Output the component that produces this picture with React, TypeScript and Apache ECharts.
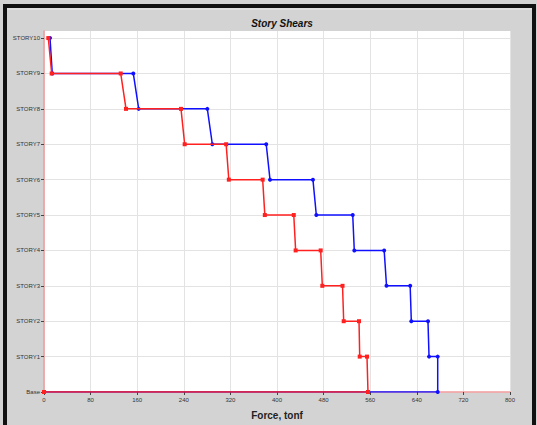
import React, { useEffect, useRef } from "react";
import * as echarts from "echarts";

// Story levels from the base up
const storyNames = ["Base", "STORY1", "STORY2", "STORY3", "STORY4", "STORY5", "STORY6", "STORY7", "STORY8", "STORY9", "STORY10"];

// Story shear (tonf) at the top and bottom of each story, STORY1..STORY10
const redTop = [554.5, 540.8, 512.5, 475, 428.8, 375.4, 312.7, 235.2, 131.7, 7.4];
const redBottom = [556.2, 542, 514.5, 477.8, 432, 379.1, 317.3, 241.5, 140.8, 13.2];
const blueTop = [675.9, 659.2, 628.6, 584, 530, 461.7, 381.5, 280.4, 153.3, 10.3];
const blueBottom = [675.9, 661, 630.6, 588, 532.7, 467.5, 388, 289, 162.6, 14.2];

const xTicks = [0, 80, 160, 240, 320, 400, 480, 560, 640, 720, 800];

// Walk from the roof down to the base: top of story at its level, bottom at the level below
function stepPath(top: number[], bottom: number[]): number[][] {
  const pts: number[][] = [];
  for (let s = top.length; s >= 1; s--) {
    pts.push([top[s - 1], s]);
    pts.push([bottom[s - 1], s - 1]);
  }
  pts.push([0, 0]);
  return pts;
}

export default function App() {
  const ref = useRef<HTMLDivElement>(null);

  useEffect(() => {
    if (!ref.current) return;
    const chart = echarts.init(ref.current, null, { renderer: "svg" });
    const levelValues = storyNames.map((_, i) => i);
    const font = "Liberation Sans, Arial, sans-serif";

    chart.setOption({
      animation: false,
      backgroundColor: "#d3d3d3",
      title: {
        text: "Story Shears",
        left: 277,
        top: 13,
        textAlign: "center",
        textStyle: { fontSize: 10, fontWeight: "bold", fontStyle: "italic", color: "#111", fontFamily: font },
      },
      graphic: [
        { type: "rect", shape: { x: 3, y: 4, width: 4, height: 425 }, style: { fill: "#111" } },
        { type: "rect", shape: { x: 3, y: 4, width: 533, height: 4 }, style: { fill: "#111" } },
        { type: "rect", shape: { x: 532, y: 4, width: 4, height: 425 }, style: { fill: "#111" } },
        { type: "rect", shape: { x: 7, y: 8, width: 525, height: 2 }, style: { fill: "#dedede" } },
      ],
      grid: {
        left: 44,
        right: 27,
        top: 31,
        bottom: 32,
        show: true,
        backgroundColor: "#ffffff",
        borderWidth: 0,
      },
      xAxis: {
        type: "value",
        min: 0,
        max: 800,
        interval: 80,
        name: "Force, tonf",
        nameLocation: "middle",
        nameGap: 18,
        nameTextStyle: { fontSize: 10, fontWeight: "bold", color: "#222", fontFamily: font },
        axisLine: { show: true, lineStyle: { color: "#f29a9a", width: 1.5 } },
        axisTick: { show: true, length: 3, lineStyle: { color: "#444" } },
        axisLabel: {
          fontSize: 6,
          color: "#333",
          margin: 5,
          fontFamily: font,
          customValues: xTicks,
        },
        splitLine: { show: true, lineStyle: { color: "#e3e3e3", width: 1 } },
      },
      yAxis: {
        type: "value",
        min: 0,
        max: 10.2,
        interval: 1,
        axisLine: { show: true, lineStyle: { color: "#f29a9a", width: 1.5 } },
        axisTick: { show: true, length: 3, lineStyle: { color: "#444" }, customValues: levelValues },
        axisLabel: {
          fontSize: 6,
          color: "#333",
          margin: 4,
          fontFamily: font,
          customValues: levelValues,
          formatter: (v: number) => storyNames[Math.round(v)] ?? "",
        },
        splitLine: { show: true, lineStyle: { color: "#e3e3e3", width: 1 } },
      },
      series: [
        {
          name: "Blue",
          type: "line",
          data: stepPath(blueTop, blueBottom),
          symbol: "circle",
          symbolSize: 4,
          showSymbol: true,
          lineStyle: { color: "#1010ff", width: 1.5 },
          itemStyle: { color: "#1010ff" },
          z: 2,
        },
        {
          name: "Red",
          type: "line",
          data: stepPath(redTop, redBottom),
          symbol: "rect",
          symbolSize: 4,
          showSymbol: true,
          lineStyle: { color: "#ff2020", width: 1.5 },
          itemStyle: { color: "#ff2020" },
          z: 3,
        },
      ],
    });

    return () => chart.dispose();
  }, []);

  return (
    <div
      ref={ref}
      style={{ position: "absolute", left: 0, top: 0, width: 537, height: 425 }}
    />
  );
}
